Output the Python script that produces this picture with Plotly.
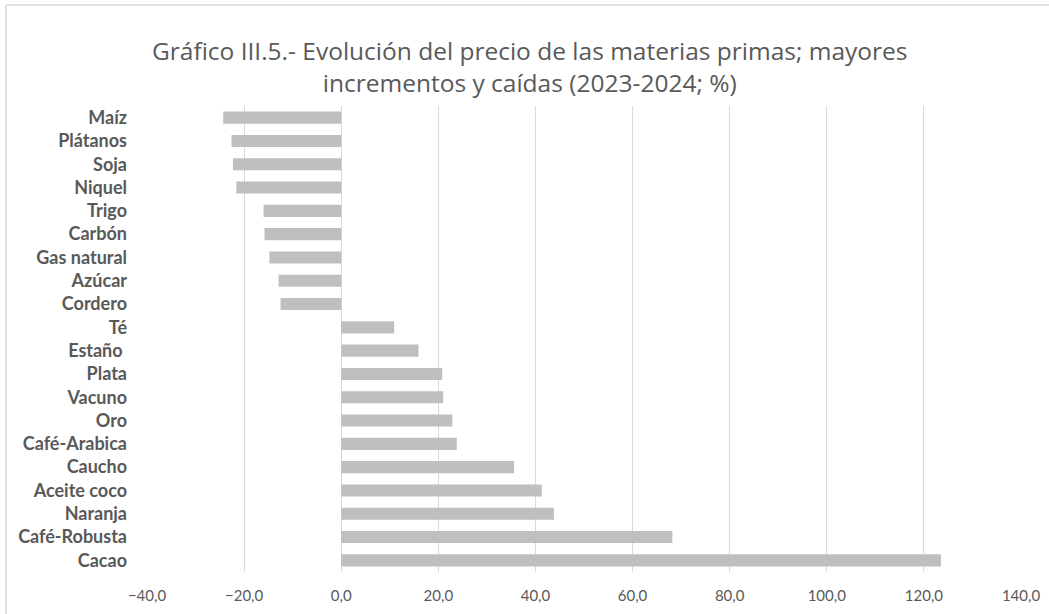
import plotly.graph_objects as go

# Commodity price change 2023-2024 (%), ordered top to bottom
commodities = [
    "Maíz", "Plátanos", "Soja", "Niquel", "Trigo", "Carbón", "Gas natural",
    "Azúcar", "Cordero", "Té", "Estaño ", "Plata", "Vacuno", "Oro",
    "Café-Arabica", "Caucho", "Aceite coco", "Naranja", "Café-Robusta", "Cacao",
]
change_pct = [
    -24.3, -22.6, -22.3, -21.6, -16.0, -15.8, -14.8,
    -12.9, -12.5, 10.9, 15.9, 20.8, 21.0, 22.9,
    23.8, 35.6, 41.3, 43.8, 68.2, 123.5,
]
x_ticks = [-40, -20, 0, 20, 40, 60, 80, 100, 120, 140]

W, H = 1049, 614
ML, MR, MT, MB = 147, 28, 106, 42
pw, ph = W - ML - MR, H - MT - MB

fig = go.Figure(
    go.Bar(
        x=change_pct,
        y=commodities,
        orientation="h",
        marker=dict(color="#bfbfbf", line=dict(width=0)),
        width=0.52,
        hoverinfo="x+y",
    )
)

# light frame around the chart (runs off the right and bottom edges)
x0 = (6 - ML) / pw
y0 = 1 + (MT - 5) / ph
frame = dict(color="#d9d9d9", width=1.5)
fig.add_shape(type="line", xref="paper", yref="paper", x0=x0, x1=1.2, y0=y0, y1=y0, line=frame)
fig.add_shape(type="line", xref="paper", yref="paper", x0=x0, x1=x0, y0=y0, y1=-0.2, line=frame)

fig.update_layout(
    width=W,
    height=H,
    margin=dict(l=ML, r=MR, t=MT, b=MB),
    paper_bgcolor="white",
    plot_bgcolor="white",
    separators=",.",
    showlegend=False,
    title=dict(
        text="Gráfico III.5.- Evolución del precio de las materias primas; mayores<br>incrementos y caídas (2023-2024; %)",
        x=0.505,
        xanchor="center",
        xref="container",
        y=1 - 60 / H,
        yanchor="top",
        yref="container",
        font=dict(family="Open Sans", size=24.5, color="#595959"),
    ),
    xaxis=dict(
        range=[-40, 140],
        tickvals=x_ticks,
        tickformat=".1f",
        showgrid=True,
        gridcolor="#d9d9d9",
        gridwidth=1,
        zeroline=True,
        zerolinecolor="#d9d9d9",
        zerolinewidth=1,
        showline=False,
        ticks="",
        ticklabelstandoff=13,
        tickfont=dict(family="Lato", size=15, color="#595959"),
        automargin=False,
        fixedrange=True,
    ),
    yaxis=dict(
        autorange="reversed",
        showgrid=False,
        zeroline=False,
        showline=False,
        ticks="",
        ticklabelstandoff=19,
        tickfont=dict(family="Lato", size=18, color="#595959", weight="bold"),
        automargin=False,
        fixedrange=True,
    ),
    bargap=0.5,
)

fig.write_html("out.html", config={"displayModeBar": False})
